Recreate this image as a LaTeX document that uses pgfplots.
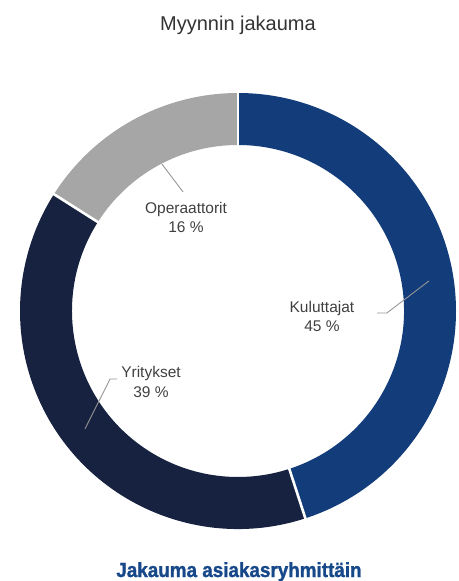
\documentclass[border=0pt]{standalone}
\usepackage{pgfplots}
\usepackage{pgfplotstable}
\pgfplotsset{compat=1.18}
\usepackage{fontspec}
\setmainfont{Liberation Sans}
\newfontfamily\footfont[FakeBold=1.3,FakeStretch=0.92]{Liberation Sans}
\definecolor{cKul}{RGB}{18,61,122}
\definecolor{cYri}{RGB}{22,34,63}
\definecolor{cOpe}{RGB}{166,166,166}
\definecolor{cTitle}{RGB}{51,51,51}
\definecolor{cLab}{RGB}{64,64,64}
\definecolor{cLine}{RGB}{150,150,150}
\definecolor{cFoot}{RGB}{23,72,137}
\pgfplotstableread{
label value
Kuluttajat 45
Yritykset 39
Operaattorit 16
}\datatable
\newcommand\donutwedge[3]{%
  \fill[#3] ([shift={(#1:218pt)}]axis cs:0,0) arc[start angle=#1, end angle=#2, radius=218pt]
    -- ([shift={(#2:166pt)}]axis cs:0,0) arc[start angle=#2, end angle=#1, radius=166pt] -- cycle;}
\newcommand\donutsep[1]{%
  \draw[white, line width=2.6pt] ([shift={(#1:160pt)}]axis cs:0,0) -- ([shift={(#1:225pt)}]axis cs:0,0);}
\tikzset{lab/.style={cLab, anchor=base, inner sep=0pt, font=\fontsize{15.5}{18}\selectfont}}
\begin{document}
\begin{tikzpicture}
\useasboundingbox (0,0) rectangle (458pt,581pt);
\pgfplotstablegetelem{0}{value}\of\datatable \pgfmathsetmacro\va{\pgfplotsretval}
\pgfplotstablegetelem{1}{value}\of\datatable \pgfmathsetmacro\vb{\pgfplotsretval}
\pgfplotstablegetelem{2}{value}\of\datatable \pgfmathsetmacro\vc{\pgfplotsretval}
\pgfmathsetmacro\aA{90}
\pgfmathsetmacro\aB{90-3.6*\va}
\pgfmathsetmacro\aC{\aB-3.6*\vb}
\pgfmathsetmacro\aD{\aC-3.6*\vc}
\begin{axis}[at={(20pt,52pt)}, anchor=south west, scale only axis,
  width=436pt, height=436pt, xmin=-1, xmax=1, ymin=-1, ymax=1,
  hide axis, clip=false]
\donutwedge{\aA}{\aB}{cKul}
\donutwedge{\aB}{\aC}{cYri}
\donutwedge{\aC}{\aD}{cOpe}
\donutsep{\aA}
\donutsep{\aB}
\donutsep{\aC}
% leader lines
\draw[cLine, line width=0.9pt] (axis cs:0.638,-0.009) -- (axis cs:0.683,-0.009) -- (axis cs:0.876,0.138);
\draw[cLine, line width=0.9pt] (axis cs:-0.555,-0.312) -- (axis cs:-0.587,-0.312) -- (axis cs:-0.702,-0.541);
\draw[cLine, line width=0.9pt] (axis cs:-0.252,0.546) -- (axis cs:-0.349,0.674);
% labels
\node[lab] at (axis cs:0.385,-0.0046) {Kuluttajat};
\node[lab] at (axis cs:0.385,-0.0963) {45 \%};
\node[lab] at (axis cs:-0.399,-0.3028) {Yritykset};
\node[lab] at (axis cs:-0.399,-0.3945) {39 \%};
\node[lab] at (axis cs:-0.2385,0.4495) {Operaattorit};
\node[lab] at (axis cs:-0.2385,0.3578) {16 \%};
\end{axis}
\node[cTitle, anchor=base, font=\fontsize{20}{24}\selectfont] at (238pt,550pt) {Myynnin jakauma};
\node[cFoot, anchor=base, inner sep=0pt, font=\fontsize{20.5}{22}\footfont\bfseries] at (239pt,4pt) {Jakauma asiakasryhmittäin};
\end{tikzpicture}
\end{document}
